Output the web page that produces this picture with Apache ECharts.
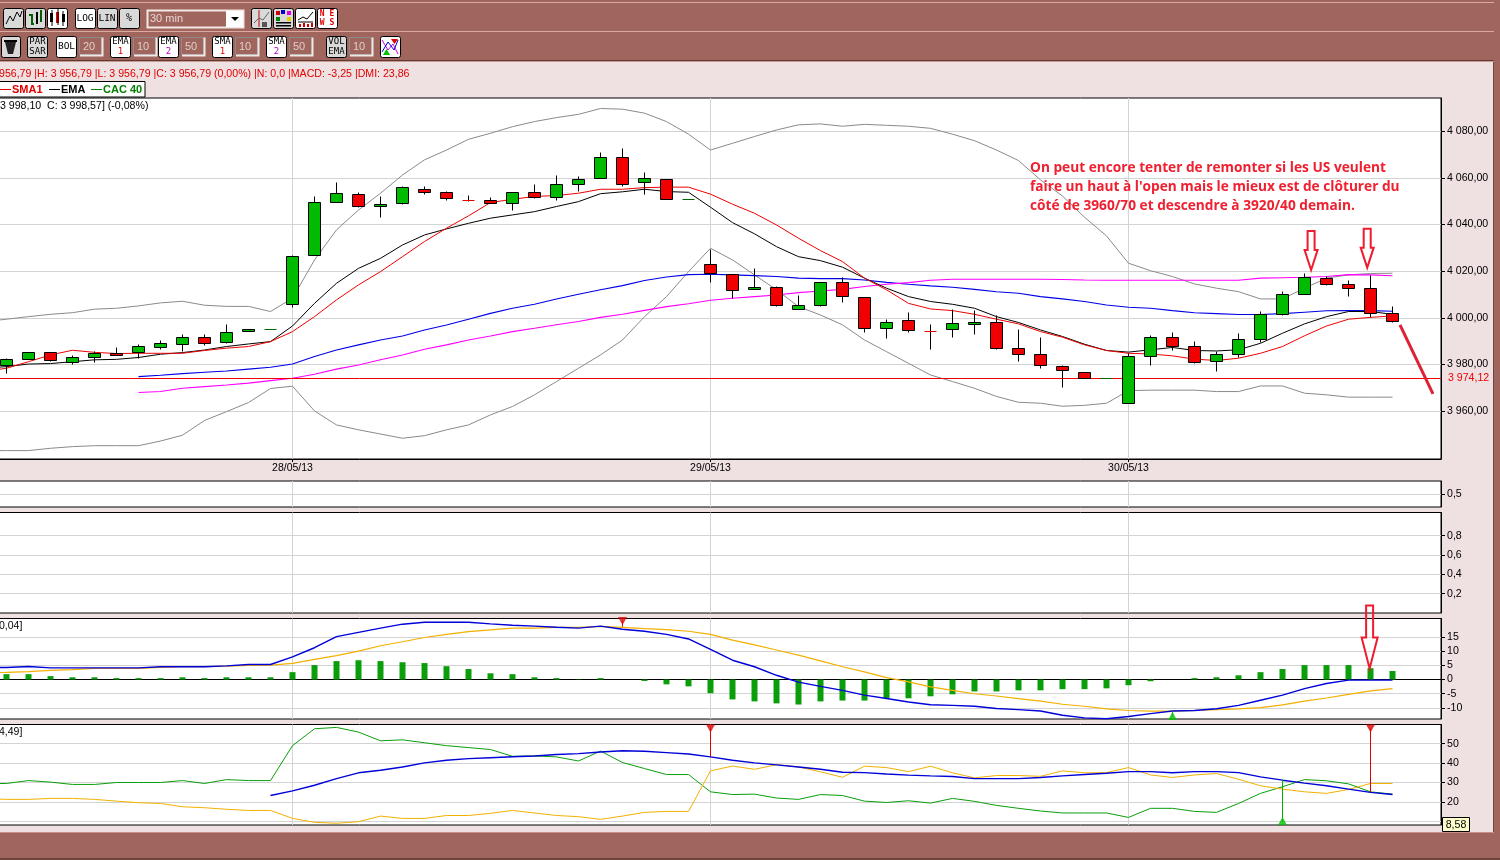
<!DOCTYPE html>
<html><head><meta charset="utf-8">
<style>html,body{margin:0;padding:0;background:#efe0e1;overflow:hidden}#c{width:1500px;height:860px}</style>
<script src="https://cdn.jsdelivr.net/npm/echarts@6/dist/echarts.min.js"></script>
</head><body><div id="c"></div>
<script>
// ---------- data ----------
const dateTickIndex=[13,32,51];
const dateTickLabels=['28/05/13','29/05/13','30/05/13'];
const priceTicks=[3960,3980,4000,4020,4040,4060,4080];
const panel2Ticks=[0.5];
const panel3Ticks=[0.2,0.4,0.6,0.8];
const macdTicks=[-10,-5,0,5,10,15];
const dmiTicks=[10,20,30,40,50];
const dmiLabelTicks=[20,30,40,50];
const referenceLevel=3974.12;

const open=[3979.5,3982.1,3985.2,3981.0,3983.0,3984.8,3985.1,3987.2,3988.7,3991.7,3989.5,3994.1,3995.1,4005.8,4026.7,4049.5,4052.9,4047.7,4048.9,4055.1,4053.8,4050.4,4050.4,4049.1,4053.8,4051.7,4057.2,4059.8,4068.8,4058.1,4059.4,4050.8,4023.0,4018.7,4012.1,4013.1,4003.7,4005.4,4015.2,4008.8,3995.5,3999.0,3994.2,3995.1,3997.2,3998.1,3987.0,3984.4,3979.0,3976.7,3974.1,3963.4,3983.5,3991.7,3987.8,3981.4,3984.4,3990.8,4001.5,4010.1,4017.0,4014.4,4012.7,4002.0];
const close=[3982.2,3985.2,3981.8,3983.1,3984.8,3983.8,3987.8,3989.1,3991.7,3989.0,3993.8,3995.1,3995.1,4026.4,4049.5,4053.4,4047.7,4048.7,4055.9,4053.8,4051.2,4050.3,4048.9,4053.8,4051.7,4057.2,4059.4,4068.8,4057.2,4059.8,4050.8,4050.8,4019.0,4011.8,4013.1,4005.4,4005.4,4015.2,4009.2,3995.5,3998.1,3994.7,3994.1,3997.7,3998.1,3987.0,3984.2,3979.5,3977.4,3974.1,3974.1,3983.5,3991.7,3987.8,3981.0,3984.4,3990.8,4001.5,4010.1,4017.4,4014.4,4012.7,4002.0,3998.5];
const low=[3976.1,3982.1,3981.2,3980.0,3981.0,3983.8,3982.5,3986.4,3985.7,3988.1,3989.0,3994.1,3995.1,4004.4,4026.7,4049.5,4047.2,4042.9,4048.5,4052.8,4050.2,4049.9,4048.9,4046.0,4051.1,4050.2,4054.1,4059.8,4056.2,4052.8,4050.8,4050.8,4015.1,4008.2,4012.1,4004.8,4003.7,4004.8,4006.5,3993.7,3991.1,3993.7,3986.4,3991.5,3992.8,3986.4,3981.2,3978.2,3970.1,3974.1,3974.1,3963.4,3979.5,3986.0,3980.4,3977.0,3983.0,3989.5,4001.1,4010.1,4014.0,4009.2,4000.2,3998.1];
const high=[3982.7,3985.2,3985.2,3984.0,3985.5,3987.4,3988.7,3990.1,3993.0,3993.0,3997.2,3995.1,3995.1,4026.8,4052.2,4058.2,4053.8,4052.2,4056.4,4056.4,4054.2,4052.5,4051.6,4053.8,4057.0,4061.2,4060.4,4070.7,4072.4,4062.1,4059.4,4050.8,4029.1,4018.7,4021.2,4013.5,4009.7,4015.2,4017.4,4008.8,3999.4,4002.4,3997.2,4003.7,4003.2,4001.0,3995.1,3991.4,3979.4,3976.7,3974.1,3984.5,3992.5,3993.8,3990.0,3985.7,3993.4,4002.8,4011.4,4019.1,4017.8,4016.1,4018.2,4005.0];

// lines begin one bar before the first candle (left edge of the picture)
const sma1=[3977.0,3978.4,3981.2,3984.1,3986.1,3985.2,3984.7,3984.8,3984.8,3984.8,3986.0,3987.0,3987.7,3989.8,3994.1,4000.5,4007.7,4014.1,4019.8,4026.2,4032.7,4038.4,4043.7,4049.4,4050.8,4052.0,4052.4,4053.4,4055.1,4055.1,4055.8,4056.0,4056.0,4053.0,4048.7,4044.8,4039.8,4034.1,4028.8,4024.1,4017.0,4012.0,4006.2,4003.8,4003.1,4001.5,3999.4,3997.4,3994.1,3991.7,3988.4,3986.0,3984.8,3984.5,3983.7,3982.3,3981.7,3982.7,3984.8,3987.7,3992.3,3996.5,3999.4,4000.2,4000.8];
const ema1=[3978.4,3979.1,3980.2,3980.4,3981.2,3982.0,3982.2,3983.0,3984.4,3985.1,3986.2,3987.7,3988.8,3989.8,3996.5,4006.2,4014.8,4021.2,4025.5,4031.2,4035.5,4038.1,4040.5,4042.7,4044.1,4045.5,4047.7,4049.8,4053.2,4054.0,4055.1,4054.1,4053.8,4047.4,4040.8,4036.0,4030.5,4026.2,4024.5,4021.7,4017.0,4012.7,4009.1,4007.0,4005.8,4004.1,4000.5,3998.0,3994.8,3992.0,3988.7,3986.0,3985.3,3986.3,3987.3,3986.0,3985.8,3986.3,3989.1,3993.4,3997.4,4000.5,4002.7,4002.7,4001.5];
const bollUpper=[3998.4,3999.4,4000.5,4001.5,4002.2,4003.7,4004.1,4005.1,4006.4,4007.1,4005.4,4004.9,4004.9,4002.7,4008.4,4024.8,4037.7,4046.2,4053.4,4061.2,4067.7,4071.9,4076.5,4079.1,4081.9,4084.1,4085.8,4087.2,4089.7,4089.4,4087.7,4084.1,4078.7,4071.9,4074.8,4077.7,4080.5,4082.7,4083.1,4082.1,4082.9,4082.5,4082.1,4081.2,4078.7,4075.9,4071.9,4067.4,4059.1,4052.2,4043.1,4035.1,4023.4,4020.2,4017.7,4014.5,4012.7,4011.2,4008.1,4008.1,4012.7,4017.0,4018.4,4019.0,4019.1];
const bollLower=[3943.1,3943.1,3943.1,3944.1,3944.8,3945.2,3945.2,3945.2,3947.2,3949.7,3956.0,3959.8,3963.7,3969.7,3970.7,3960.1,3954.1,3952.0,3950.2,3948.4,3949.5,3952.0,3954.1,3958.4,3962.0,3967.0,3972.7,3978.4,3984.1,3990.5,4000.5,4009.1,4019.8,4029.8,4024.8,4018.4,4012.0,4004.8,4001.2,3997.0,3990.5,3985.5,3980.5,3975.5,3972.7,3969.8,3966.3,3963.8,3963.4,3962.1,3962.5,3963.4,3968.8,3969.0,3969.0,3969.0,3968.4,3968.4,3970.8,3970.8,3967.7,3967.0,3966.0,3966.0,3966.0];
// these two begin at bar 6
const avgBlue=[3974.8,3975.4,3976.1,3976.7,3977.2,3978.0,3978.8,3980.2,3983.4,3986.2,3988.4,3990.5,3992.2,3994.8,3996.9,3999.4,4001.9,4004.1,4005.8,4008.1,4010.1,4012.0,4013.8,4016.0,4017.5,4018.5,4018.7,4018.4,4018.1,4017.7,4017.0,4016.8,4016.8,4016.2,4015.2,4014.4,4013.7,4013.1,4012.2,4011.2,4010.5,4009.1,4008.1,4007.0,4005.5,4004.5,4004.1,4003.1,4002.2,4001.8,4001.4,4001.4,4001.8,4002.4,4003.0,4003.1,4003.1,4002.8];
const avgMagenta=[3968.0,3968.4,3969.8,3970.5,3971.2,3972.0,3973.1,3974.1,3975.8,3978.0,3979.8,3982.0,3984.1,3986.5,3988.4,3990.5,3992.2,3994.1,3995.5,3997.0,3998.4,4000.2,4001.5,4003.2,4004.8,4006.0,4007.5,4008.4,4009.1,4009.8,4010.8,4011.5,4012.2,4013.4,4014.4,4015.1,4016.1,4016.5,4016.5,4016.5,4016.5,4016.5,4016.4,4016.2,4016.1,4016.1,4016.1,4016.1,4016.1,4016.1,4016.1,4017.0,4017.2,4017.4,4017.7,4018.5,4018.4,4018.0];

const macdHist=[1.9,1.9,1.2,0.8,0.8,0.5,0.5,0.5,0.8,0.5,0.8,0.8,0.8,2.6,5.1,6.5,6.8,6.5,6.1,5.8,4.7,3.7,2.2,1.9,0.8,0.5,0.1,0.5,0,-0.5,-1.7,-2.4,-4.8,-7.0,-7.7,-8.4,-8.8,-7.7,-7.4,-7.4,-6.6,-6.6,-5.9,-5.2,-4.2,-4.2,-3.8,-3.8,-3.4,-3.4,-3.1,-2.0,-0.6,0,0.5,0.8,1.5,2.6,3.7,5.1,5.1,5.1,4.0,3.0];
const macdLine=[4.25,4.25,4.6,4.1,4.1,4.1,4.1,4.1,4.5,4.5,4.5,4.8,5.3,5.3,8.0,11.2,15.1,16.6,18.1,19.5,20.2,20.2,20.2,19.6,19.1,18.8,18.4,18.1,18.8,17.7,17.0,15.9,14.3,10.6,6.8,4.5,1.5,-0.9,-2.4,-3.8,-5.5,-6.7,-7.9,-8.9,-9.1,-9.4,-10.2,-10.6,-11.1,-12.6,-13.5,-13.8,-13.0,-12.0,-11.1,-10.9,-10.3,-9.1,-7.3,-5.5,-3.2,-1.4,-0.2,-0.2,-0.2];
const macdSignal=[2.4,2.5,2.8,3.2,3.5,3.9,3.9,3.9,4.25,4.5,4.5,4.7,5.0,5.1,5.7,7.1,8.4,10.0,11.9,13.3,14.8,15.9,16.9,17.5,18.1,18.1,18.4,18.4,18.7,18.4,17.9,17.6,17.0,15.9,13.9,12.2,10.4,8.6,6.6,4.5,2.7,0.7,-0.8,-2.6,-3.8,-5.0,-5.8,-6.7,-7.6,-8.7,-9.4,-10.3,-10.9,-11.1,-11.1,-10.9,-10.6,-10.3,-9.9,-8.9,-7.6,-6.5,-5.2,-4.0,-3.2];

const dmiPlus=[29.5,29.5,31.0,30.2,29.0,29.0,30.0,30.0,30.0,31.0,29.5,31.5,31.0,31.0,49.0,57.7,58.4,56.0,51.5,52.0,50.5,49.0,48.0,47.0,43.5,43.7,43.2,41.1,46.2,40.3,37.2,34.1,34.1,25.2,23.8,24.0,22.0,21.3,23.8,23.3,20.4,19.7,20.6,19.4,21.8,20.3,18.2,16.7,15.3,14.3,14.3,14.3,12.0,16.7,16.7,15.1,14.6,19.2,24.4,27.8,31.5,30.9,29.3,25.2,24.0];
const dmiMinus=[21.8,21.3,21.3,21.8,21.8,21.3,20.4,19.6,19.2,17.5,17.0,16.2,15.6,15.6,11.5,9.5,9.0,9.8,12.7,11.5,11.5,13.0,13.0,14.1,15.6,14.3,13.0,12.4,11.0,12.7,14.6,15.1,15.1,36.0,38.5,36.8,39.2,38.0,35.5,32.7,38.4,37.7,35.6,38.4,35.0,32.4,33.6,33.6,33.2,36.0,35.0,35.1,37.7,33.9,32.6,33.9,34.6,31.7,28.3,26.6,25.2,24.4,26.4,29.5,29.5];
// begins at bar 12
const adx=[23.3,25.7,28.6,32.0,35.0,36.3,38.0,40.1,41.5,42.3,42.8,43.3,43.7,44.4,44.9,45.7,46.4,46.1,45.4,44.7,43.2,41.5,40.1,39.1,38.0,36.8,35.3,35.1,34.4,33.8,33.4,33.1,32.0,32.0,32.0,32.6,33.4,34.1,34.8,35.6,35.6,35.0,35.6,35.6,35.1,32.9,31.2,29.7,28.3,26.6,24.9,23.8];

// signals: [bar, marker value, stem end value]
const macdSellSignal=[28,20.6,18.6];
const macdBuySignal=[53,-12.85,-11.2];
const dmiSellSignals=[[32,57.8,43.2],[62,57.8,25.0]];
const dmiBuySignal=[58,10.2,31.5];
// annotation: forecast stroke [bar,price] and arrows' tips
const forecastBars=[63.34,64.84];
const forecastPrices=[3997.0,3967.4];
const priceArrowTips=[[59.3,4020.5],[61.85,4021.5]];
const macdArrowTip=[61.96,3.9];

// ---------- layout / styles ----------
const FONT='"Liberation Sans",Arial,sans-serif';
const MONO='"DejaVu Sans Mono",monospace';
const BROWN='#a0665d',PINK='#efe0e1',GRID='#d3d3d3';
const XMIN=-9.5/22,XMAX=(1441-6.5)/22;
const panels=[
 {top:98,bottom:459,min:3939.5,max:4094.2},
 {top:481,bottom:507,min:0,max:1},
 {top:512.5,bottom:613,min:0,max:1.04},
 {top:618.5,bottom:719,min:-13.9,max:21.5},
 {top:724.5,bottom:825,min:8.1,max:59.9}
];
const pairs=(arr,start)=>arr.map((v,k)=>[k+start,v]);
const thousands=v=>{const s=v.toFixed(2).replace('.',',');const ip=s.split(',')[0];return ip.slice(0,1)+' '+ip.slice(1)+','+s.split(',')[1];};

const grids=panels.map(p=>({show:true,outerBoundsMode:'none',backgroundColor:'#fff',borderColor:'#000',borderWidth:1,left:-3,width:1444,top:p.top,height:p.bottom-p.top}));
const xAxes=panels.map((p,k)=>({
  type:'value',gridIndex:k,min:XMIN,max:XMAX,silent:true,
  splitLine:{show:true,lineStyle:{color:GRID,width:1}},
  axisLine:{show:k===0||k===3,onZero:k===3,lineStyle:{color:'#000',width:1}},
  axisTick:{show:k===0,length:3,customValues:dateTickIndex,lineStyle:{color:'#000'}},
  axisLabel:{show:k===0,customValues:dateTickIndex,margin:4,fontFamily:FONT,fontSize:10.5,color:'#000',
    formatter:v=>dateTickLabels[dateTickIndex.indexOf(v)]||''}
}));
const yTicks=[priceTicks,panel2Ticks,panel3Ticks,macdTicks,dmiTicks];
const yLabels=[priceTicks,panel2Ticks,panel3Ticks,macdTicks,dmiLabelTicks];
const yFmt=[thousands,v=>String(v).replace('.',','),v=>String(v).replace('.',','),v=>String(v),v=>String(v)];
const yAxes=panels.map((p,k)=>({
  type:'value',gridIndex:k,position:'right',min:p.min,max:p.max,silent:true,
  splitLine:{show:true,lineStyle:{color:GRID,width:1}},
  axisLine:{show:true,onZero:false,lineStyle:{color:'#000',width:1}},
  axisTick:{show:true,length:4,customValues:yTicks[k],lineStyle:{color:'#000'}},
  axisLabel:{customValues:yLabels[k],margin:6,padding:[2,0,0,0],fontFamily:FONT,fontSize:10.6,color:'#000',formatter:yFmt[k]}
}));

const line=(name,arr,start,g,color,width,z)=>({type:'line',name,xAxisIndex:g,yAxisIndex:g,data:pairs(arr,start),showSymbol:false,symbol:'none',silent:true,animation:false,z:z||3,lineStyle:{color,width}});
const stem=(sig,g,color)=>({type:'line',xAxisIndex:g,yAxisIndex:g,data:[[sig[0],sig[1]],[sig[0],sig[2]]],symbol:'none',silent:true,animation:false,z:6,lineStyle:{color,width:1}});
const tri=(sig,g,color,down)=>({type:'scatter',xAxisIndex:g,yAxisIndex:g,data:[[sig[0],sig[1]]],symbol:'triangle',symbolRotate:down?180:0,symbolSize:[9,8],silent:true,animation:false,z:7,itemStyle:{color}});

function candleItem(params,api){
  const x=Math.round(api.coord([api.value(0),0])[0]-0.5)+0.5;
  const o=api.value(1),c=api.value(2);
  const sn=v=>Math.round(api.coord([0,v])[1]-0.5)+0.5;
  const yo=sn(o),yc=sn(c),yl=sn(api.value(3)),yh=sn(api.value(4));
  const kids=[];
  const dir=c>=o;
  if(yl!==yh) kids.push({type:'line',shape:{x1:x,y1:yh,x2:x,y2:yl},style:{stroke:'#000',lineWidth:1}});
  if(Math.abs(c-o)<0.2){
    kids.push({type:'line',shape:{x1:x-6,y1:yo,x2:x+6,y2:yo},style:{stroke:dir?'#006400':'#e80000',lineWidth:1}});
  }else{
    const t=Math.min(yo,yc);
    kids.push({type:'rect',shape:{x:x-6,y:t,width:12,height:Math.abs(yo-yc)},style:{fill:dir?'#00bb00':'#f00000',stroke:'#000',lineWidth:1}});
  }
  return {type:'group',children:kids};
}
function arrowItem(params,api){
  const p=api.coord([api.value(0),api.value(1)]);
  const sw=+api.value(2),hw=+api.value(3),hl=+api.value(4),len=+api.value(5);
  const pts=[[0,0],[-hw,-hl],[-sw,-hl],[-sw,-len],[sw,-len],[sw,-hl],[hw,-hl]].map(q=>[p[0]+q[0],p[1]+q[1]]);
  return {type:'polygon',shape:{points:pts},style:{fill:'rgba(0,0,0,0)',stroke:'#ee1c2e',lineWidth:2}};
}

const series=[
 line('BB haut',bollUpper,-1,0,'#8a8a8a',1),
 line('BB bas',bollLower,-1,0,'#8a8a8a',1),
 line('EMA2',avgBlue,6,0,'#0000e6',1.1),
 line('SMA2',avgMagenta,6,0,'#ff00ff',1.1),
 line('EMA',ema1,-1,0,'#000',1),
 Object.assign(line('SMA1',sma1,-1,0,'#ee0000',1),{markLine:{silent:true,symbol:'none',animation:false,
   lineStyle:{color:'#f00000',width:1,type:'solid'},
   label:{position:'end',distance:7,formatter:()=>thousands(referenceLevel),color:'#f00000',fontFamily:FONT,fontSize:10.6},
   data:[{yAxis:referenceLevel}]}}),
 {type:'custom',name:'CAC 40',xAxisIndex:0,yAxisIndex:0,z:5,silent:true,animation:false,renderItem:candleItem,
  encode:{x:0,y:[1,2,3,4]},data:open.map((o,k)=>[k,o,close[k],low[k],high[k]])},
 {type:'line',name:'Projection',xAxisIndex:0,yAxisIndex:0,z:8,silent:true,animation:false,symbol:'none',clip:false,
  data:forecastBars.map((b,k)=>[b,forecastPrices[k]]),lineStyle:{color:'#dd2233',width:3}},
 {type:'custom',xAxisIndex:0,yAxisIndex:0,z:9,silent:true,animation:false,renderItem:arrowItem,
  data:priceArrowTips.map(t=>[t[0],t[1],3.5,6.5,20,39])},
 {type:'bar',name:'MACD hist',xAxisIndex:3,yAxisIndex:3,barWidth:6,silent:true,animation:false,z:2,
  data:pairs(macdHist,0),itemStyle:{color:'#0a9e0a'}},
 line('Signal',macdSignal,-1,3,'#f2b000',1.2),
 line('MACD',macdLine,-1,3,'#0000d8',1.4,4),
 stem(macdSellSignal,3,'#e00000'),tri(macdSellSignal,3,'#e00000',true),
 stem(macdBuySignal,3,'#00b000'),tri(macdBuySignal,3,'#00c000',false),
 {type:'custom',xAxisIndex:3,yAxisIndex:3,z:9,silent:true,animation:false,renderItem:arrowItem,
  data:[[macdArrowTip[0],macdArrowTip[1],3.5,8,31,63]]},
 line('DMI+',dmiPlus,-1,4,'#0a9e0a',1),
 line('DMI-',dmiMinus,-1,4,'#f2b000',1),
 line('ADX',adx,12,4,'#0000d8',1.4,4),
 stem(dmiSellSignals[0],4,'#e00000'),tri(dmiSellSignals[0],4,'#e00000',true),
 stem(dmiSellSignals[1],4,'#e00000'),tri(dmiSellSignals[1],4,'#e00000',true),
 stem(dmiBuySignal,4,'#00b000'),tri(dmiBuySignal,4,'#00c000',false)
];

// ---------- window chrome ----------
const gfx=[];
const R=(x,y,w,h,fill,stroke,lw,r)=>gfx.push({type:'rect',z:50,silent:true,shape:{x,y,width:w,height:h,r:r||0},style:{fill,stroke:stroke||null,lineWidth:lw||0}});
const T=(x,y,text,fill,size,font,weight,align)=>gfx.push({type:'text',z:60,silent:true,x,y,style:{text,fill,fontSize:size,fontFamily:font||FONT,fontWeight:weight||'normal',align:align||'left',verticalAlign:'middle'}});
const P=(points,stroke,lw)=>gfx.push({type:'polyline',z:60,silent:true,shape:{points},style:{stroke,lineWidth:lw||1,fill:null}});
R(0,0,1500,62,BROWN);
R(0,2,1500,1,'#d9a9a0');R(0,31,1500,1,'#dca9a0');R(0,60,1500,1,'#5e3a34');R(0,61,1500,1,'#c99a92');
R(1494,0,6,860,BROWN);R(1493,62,1,771,'#6e443d');
R(0,832,1494,1,'#c98f86');R(0,833,1500,25,BROWN);R(0,858,1500,2,'#6e443d');
const btn=(x,y,w,h,fill)=>R(x+.5,y+.5,w,h,fill,'#000',1,2);
const G='#d9d9d9',W='#ffffff';
// row 1
btn(3,8,20,20,G);P([[6,24],[10,16],[13,21],[17,12],[20,17],[22,11]],'#000',1);
btn(25,8,20,20,G);P([[29,15],[32,15],[32,24],[34,24]],'#006000',2);P([[37,12],[37,24]],'#000',2);P([[41,10],[41,22]],'#006000',2);
btn(47,8,20,20,W);P([[52,10],[52,26]],'#000',1);P([[58,9],[58,25]],'#000',1);P([[63,11],[63,26]],'#000',1);R(50,13,3,9,'#000');R(56,12,3,11,'#e00000');R(62,14,3,8,'#000');
btn(75,8,20,20,W);T(85,18.5,'LOG','#000',9.5,MONO,'normal','center');
btn(97,8,20,20,G);T(107,18.5,'LIN','#000',9.5,MONO,'normal','center');
btn(119,8,20,20,G);T(129,18.5,'%','#000',10,MONO,'normal','center');
R(147.5,10.5,96,17,BROWN,'#f2e8e6',2);T(150,19,'30 min','#e6d6d2',11,FONT);R(226,11,17,16,W);
gfx.push({type:'polygon',z:60,silent:true,shape:{points:[[231,17],[239,17],[235,21]]},style:{fill:'#000'}});
btn(251,8,20,20,G);P([[259,10],[259,27]],'#c00000',1);P([[254,23],[259,18],[263,20],[269,12]],'#666',1);R(262,22,5,5,'#555');
btn(273,8,20,20,G);R(276,11,4,4,'#d00000');R(281,10,4,4,'#0000d0');R(287,11,4,4,'#e000e0');R(276,17,4,4,'#008000');R(287,17,4,4,'#e6d000');R(276,22,15,1.5,'#000');R(276,25,15,1.5,'#000');
btn(295,8,20,20,W);P([[298,20],[303,17],[307,19],[313,12]],'#000',1);P([[298,22],[313,22]],'#000',1);R(299,24,2,3,'#d00000');R(303,23,2,4,'#d00000');R(307,24,2,3,'#d00000');R(311,23,2,4,'#d00000');
btn(317,8,20,20,W);T(327,13.5,'N E','#e00000',8,MONO,'bold','center');T(327,22.5,'W S','#e00000',8,MONO,'bold','center');
// row 2
btn(1,36,19,21,G);gfx.push({type:'polygon',z:60,silent:true,shape:{points:[[5,42],[16,42],[13,54],[8,54]]},style:{fill:'#222'}});R(4,40,13,2,'#000');
const two=(x,a,b,fill,bColor)=>{btn(x,36,20,21,fill);T(x+10.5,42,a,'#000',9,MONO,'normal','center');T(x+10.5,52,b,bColor||'#000',9,MONO,'normal','center');};
const field=(x,txt)=>{R(x+.5,37.5,22,17,BROWN,'#8b8b8b',1);P([[x+1,55.5],[x+23.5,55.5],[x+23.5,37.5]],'#f0e8e6',2);T(x+4,46.5,txt,'#dfcfcb',11,FONT);};
two(27,'PAR','SAR',G);
btn(56,36,20,21,W);T(66.5,47,'BOL','#000',9.5,MONO,'normal','center');field(79,'20');
two(110,'EMA','1',W,'#e00000');field(133,'10');
two(158,'EMA','2',W,'#c000c0');field(181,'50');
two(212,'SMA','1',W,'#e00000');field(235,'10');
two(266,'SMA','2',W,'#c000c0');field(289,'50');
two(326,'VOL','EMA',G);field(349,'10');
btn(380,36,20,21,W);P([[382,40],[388,50],[393,44],[398,54]],'#e000e0',1);P([[382,52],[388,42],[394,50],[398,40]],'#0000d0',1);
gfx.push({type:'polygon',z:60,silent:true,shape:{points:[[391,39],[398,39],[394.5,44]]},style:{fill:'#e00000'}});
gfx.push({type:'polygon',z:60,silent:true,shape:{points:[[383,55],[390,55],[386.5,49]]},style:{fill:'#00c000'}});
// status + legend
T(-1,74.5,'956,79 |H: 3 956,79 |L: 3 956,79 |C: 3 956,79 (0,00%) |N: 0,0 |MACD: -3,25 |DMI: 23,86','#e00000',10.6,FONT);
R(-2,81.5,147,15.5,W,'#000',1);
R(0,89,11,1,'#e00000');T(12,89.5,'SMA1','#e00000',11,FONT,'bold');
R(49,89,11,1,'#000');T(61,89.5,'EMA','#000',11,FONT,'bold');
R(91,89,11,1,'#008000');T(103,89.5,'CAC 40','#008000',11,FONT,'bold');
T(0,106.5,'3 998,10  C: 3 998,57] (-0,08%)','#000',10.6,FONT);
T(-1,626.5,'0,04]','#000',10.5,FONT);
T(-1,732.5,'4,49]','#000',10.5,FONT);
// annotation
['On peut encore tenter de remonter si les US veulent',"faire un haut à l'open mais le mieux est de clôturer du",'côté de 3960/70 et descendre à 3920/40 demain.'].forEach((s,k)=>T(1030,168+k*19,s,'#f02030',13.7,'"Open Sans"','bold'));
// min tag of DMI axis
R(1442.5,817.5,27,14,'#ffffcc','#000',1);T(1456,825,'8,58','#000',10.6,FONT,'normal','center');

const chart=echarts.init(document.getElementById('c'),null,{renderer:'canvas',width:1500,height:860});
chart.setOption({animation:false,backgroundColor:PINK,grid:grids,xAxis:xAxes,yAxis:yAxes,series,graphic:{elements:gfx}});
</script></body></html>
